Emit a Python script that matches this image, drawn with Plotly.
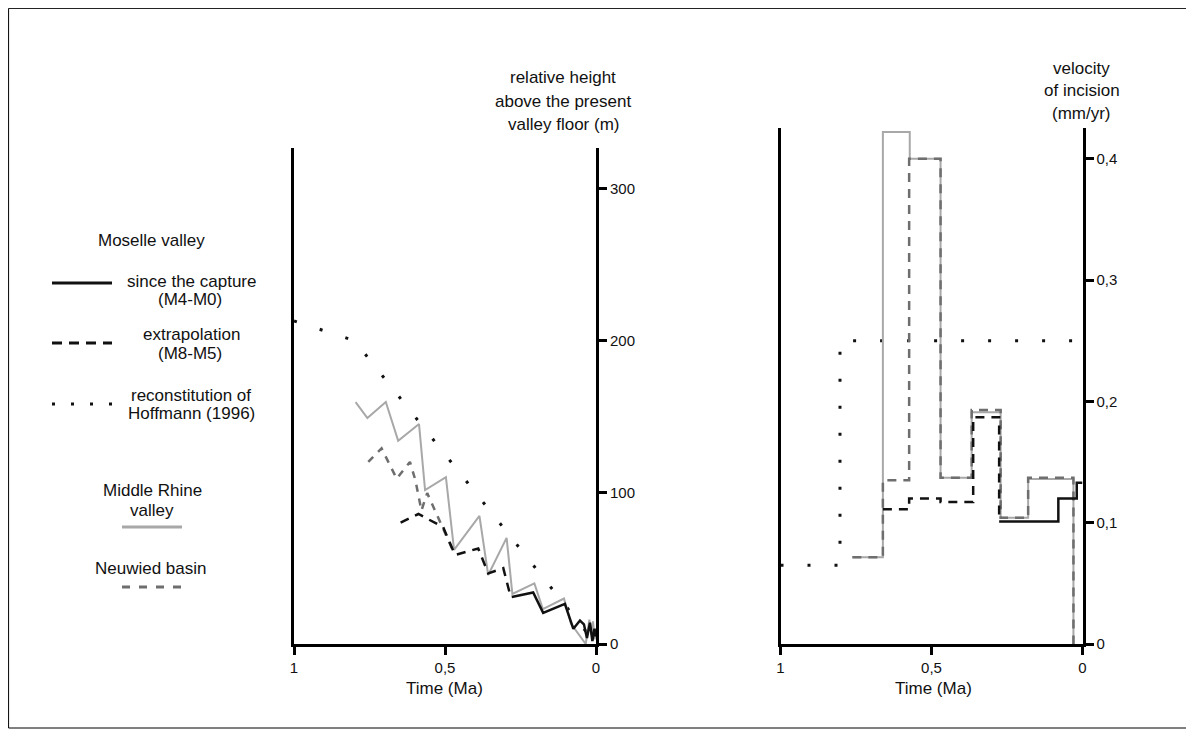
import plotly.graph_objects as go

# page has an 8px body margin, so the figure is drawn 8px in from the window corner
OFF = 8
W, H = 1186, 727

# ---------------- data: left panel (relative height, m) ----------------
rhine_t = [0.796, 0.757, 0.696, 0.655, 0.586, 0.566, 0.497, 0.470, 0.386, 0.357,
           0.296, 0.277, 0.204, 0.176, 0.106, 0.083, 0.034, 0.022, 0.015, 0.010, 0.004, 0.0]
rhine_h = [159.5, 149, 159.5, 134, 145, 101.5, 110, 62, 84.5, 45.5,
           70, 33, 40, 23, 30, 13.5, 0, 16, 6, 15, 3, 10]

neuwied_t = [0.754, 0.710, 0.660, 0.616, 0.598, 0.578, 0.559, 0.470]
neuwied_h = [120, 129, 109, 120, 108, 88, 99.5, 60]

extrap_t = [0.647, 0.588, 0.506, 0.467, 0.390, 0.357, 0.307, 0.285, 0.279]
extrap_h = [80, 85.7, 77, 58.7, 63, 46.6, 50, 33, 31]

capture_t = [0.279, 0.208, 0.175, 0.103, 0.075, 0.053, 0.040, 0.030, 0.020, 0.012, 0.005, 0.0]
capture_h = [31, 34, 20.5, 26.5, 10, 15.5, 13, 4, 14, 2, 10, 5]

hoff_t = [1.0, 0.8, 0.0]
hoff_h = [213, 200, 0]

# ---------------- data: right panel (velocity of incision, mm/yr) ----------------
rhine_vt = [0.762, 0.661, 0.572, 0.470, 0.367, 0.271, 0.180, 0.030, 0.030]
rhine_v = [0.0715, 0.422, 0.400, 0.137, 0.191, 0.104, 0.136, 0.136, 0.0]

neuwied_vt = [0.762, 0.661, 0.574, 0.470, 0.367, 0.271, 0.180, 0.030, 0.030]
neuwied_v = [0.0715, 0.135, 0.400, 0.137, 0.193, 0.104, 0.137, 0.137, 0.0]

extrap_vt = [0.661, 0.574, 0.470, 0.362, 0.276, 0.276]
extrap_v = [0.111, 0.120, 0.117, 0.187, 0.187, 0.101]

capture_vt = [0.276, 0.080, 0.019, 0.0]
capture_v = [0.101, 0.120, 0.133, 0.133]

hoff_vt = [1.0, 0.803, 0.0]
hoff_v = [0.065, 0.25, 0.25]

x_tickvals = [1, 0.5, 0]
x_ticktext = ["1", "0,5", "0"]
h_tickvals = [0, 100, 200, 300]
v_tickvals = [0, 0.1, 0.2, 0.3, 0.4]
v_ticktext = ["0", "0,1", "0,2", "0,3", "0,4"]

# ---------------- styles ----------------
BLACK = "#111111"
GRAY = "#a8a8a8"
DGRAY = "#6e6e6e"
FONT = "Liberation Sans, Arial, sans-serif"
DOT = "3px,24px"


def px(x):
    return (x - OFF) / W


def py(y):
    return 1 - (y - OFF) / H


fig = go.Figure()

# left panel traces
fig.add_trace(go.Scatter(x=hoff_t, y=hoff_h, mode="lines", xaxis="x", yaxis="y",
                         line=dict(color=BLACK, width=3, dash=DOT)))
fig.add_trace(go.Scatter(x=rhine_t, y=rhine_h, mode="lines", xaxis="x", yaxis="y",
                         line=dict(color=GRAY, width=2)))
fig.add_trace(go.Scatter(x=neuwied_t, y=neuwied_h, mode="lines", xaxis="x", yaxis="y",
                         line=dict(color=DGRAY, width=2.5, dash="7px,7px")))
fig.add_trace(go.Scatter(x=extrap_t, y=extrap_h, mode="lines", xaxis="x", yaxis="y",
                         line=dict(color=BLACK, width=2.5, dash="9px,7px")))
fig.add_trace(go.Scatter(x=capture_t, y=capture_h, mode="lines", xaxis="x", yaxis="y",
                         line=dict(color=BLACK, width=2.5)))

# right panel traces
fig.add_trace(go.Scatter(x=hoff_vt, y=hoff_v, mode="lines", xaxis="x2", yaxis="y2",
                         line=dict(color=BLACK, width=3, dash=DOT, shape="hv")))
fig.add_trace(go.Scatter(x=rhine_vt, y=rhine_v, mode="lines", xaxis="x2", yaxis="y2",
                         line=dict(color=GRAY, width=2, shape="hv")))
fig.add_trace(go.Scatter(x=neuwied_vt, y=neuwied_v, mode="lines", xaxis="x2", yaxis="y2",
                         line=dict(color=DGRAY, width=2.5, dash="9px,7px", shape="hv")))
fig.add_trace(go.Scatter(x=extrap_vt, y=extrap_v, mode="lines", xaxis="x2", yaxis="y2",
                         line=dict(color=BLACK, width=2.5, dash="9px,7px", shape="hv")))
fig.add_trace(go.Scatter(x=capture_vt, y=capture_v, mode="lines", xaxis="x2", yaxis="y2",
                         line=dict(color=BLACK, width=2.5, shape="hv")))

axis_common = dict(showline=True, linecolor="black", linewidth=3, ticks="outside",
                   ticklen=8, tickwidth=3, tickcolor="black", showgrid=False,
                   zeroline=False, automargin=False,
                   tickfont=dict(family=FONT, size=15, color="#111"))

bottom = py(644)
fig.update_layout(
    width=W, height=H, template="none", showlegend=False,
    paper_bgcolor="white", plot_bgcolor="white",
    margin=dict(l=0, r=0, t=0, b=0),
    xaxis=dict(domain=[px(294), px(596)], range=[1, 0], anchor="y",
               tickvals=x_tickvals, ticktext=x_ticktext, **axis_common),
    yaxis=dict(domain=[bottom, py(148)], range=[0, 327], anchor="x", side="right",
               mirror=True, tickvals=h_tickvals, **axis_common),
    xaxis2=dict(domain=[px(780.5), px(1082.5)], range=[1, 0], anchor="y2",
                tickvals=x_tickvals, ticktext=x_ticktext, **axis_common),
    yaxis2=dict(domain=[bottom, py(128)], range=[0, 0.4254], anchor="x2", side="right",
                mirror=True, tickvals=v_tickvals, ticktext=v_ticktext, **axis_common),
)

annotations = []


def text(x, y, s, size=16):
    annotations.append(dict(x=px(x), y=py(y), xref="paper", yref="paper", text=s,
                            showarrow=False, xanchor="center", yanchor="middle",
                            font=dict(family=FONT, size=size, color="#111")))


# axis titles
text(563, 77, "relative height", 17)
text(563, 101, "above the present", 17)
text(563, 125, "valley floor (m)", 17)
text(1081, 68, "velocity", 17)
text(1082, 91, "of incision", 17)
text(1081, 114, "(mm/yr)", 17)
text(445, 688, "Time (Ma)", 17)
text(933, 688, "Time (Ma)", 17)

# legend
text(151, 241, "Moselle valley", 17)
text(191, 281, "since the capture", 17)
text(190, 299, "(M4-M0)", 17)
text(191, 335, "extrapolation", 17)
text(190, 353, "(M8-M5)", 17)
text(191, 395, "reconstitution of", 17)
text(191, 413, "Hoffmann (1996)", 17)
text(152, 491, "Middle Rhine", 17)
text(152, 510, "valley", 17)
text(151, 568, "Neuwied basin", 17)

shapes = [
    dict(type="line", xref="paper", yref="paper", x0=px(52), x1=px(112), y0=py(283), y1=py(283),
         line=dict(color=BLACK, width=3)),
    dict(type="line", xref="paper", yref="paper", x0=px(52), x1=px(112), y0=py(343), y1=py(343),
         line=dict(color=BLACK, width=3, dash="10px,7px")),
    dict(type="line", xref="paper", yref="paper", x0=px(52), x1=px(112), y0=py(404), y1=py(404),
         line=dict(color=BLACK, width=3, dash="3px,16px")),
    dict(type="line", xref="paper", yref="paper", x0=px(122), x1=px(182), y0=py(527), y1=py(527),
         line=dict(color=GRAY, width=3)),
    dict(type="line", xref="paper", yref="paper", x0=px(122), x1=px(182), y0=py(587), y1=py(587),
         line=dict(color=DGRAY, width=3, dash="8px,9px")),
    dict(type="rect", xref="paper", yref="paper", x0=0.0005, x1=px(1187), y0=py(728), y1=0.9995,
         line=dict(color="black", width=1)),
]

fig.update_layout(annotations=annotations, shapes=shapes)

fig.write_html("out.html")
